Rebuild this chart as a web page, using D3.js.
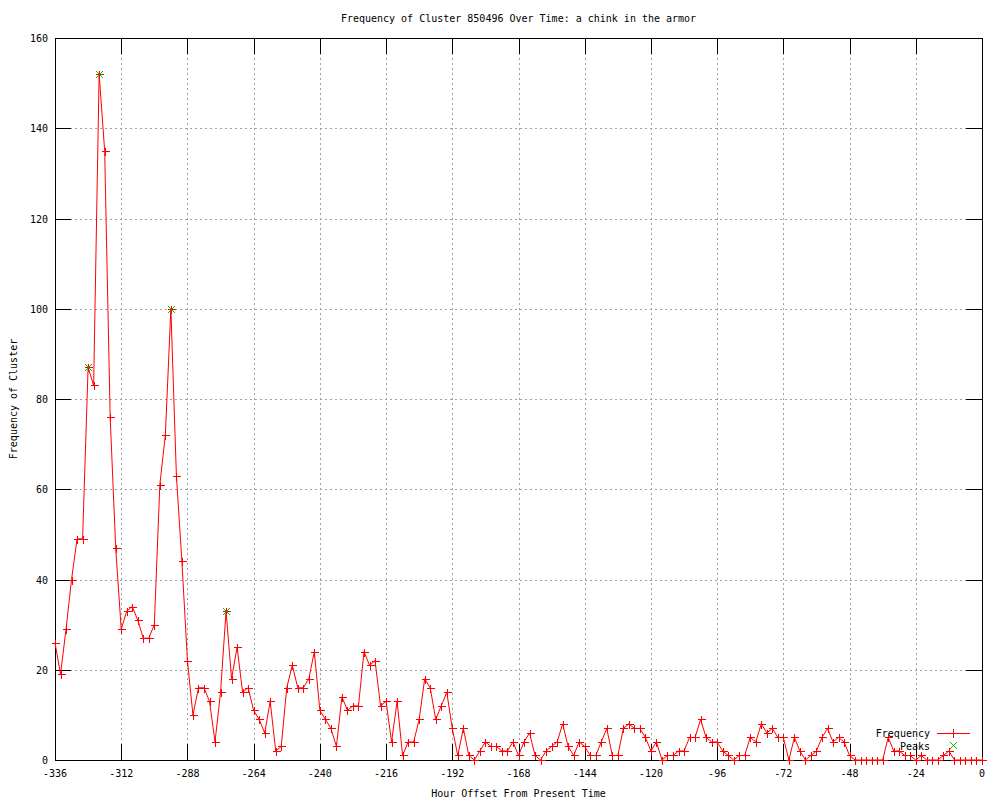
<!DOCTYPE html>
<html>
<head>
<meta charset="utf-8">
<script src="https://cdn.jsdelivr.net/npm/d3@7"></script>
<style>
  body { margin: 0; background: #fff; }
  text { font-family: "DejaVu Sans Mono", "Liberation Mono", monospace; font-size: 10px; fill: #000; }
</style>
</head>
<body>
<main></main>
<script>
// hours run every 2 hours from -336 up to 0
const hours = d3.range(-336, 1, 2);

// frequency, one per 2-hour step
const frequency = [
  26, 19, 29, 40, 49, 49, 87, 83, 152, 135,
  76, 47, 29, 33, 34, 31, 27, 27, 30, 61,
  72, 100, 63, 44, 22, 10, 16, 16, 13, 4,
  15, 33, 18, 25, 15, 16, 11, 9, 6, 13,
  2, 3, 16, 21, 16, 16, 18, 24, 11, 9,
  7, 3, 14, 11, 12, 12, 24, 21, 22, 12,
  13, 4, 13, 1, 4, 4, 9, 18, 16, 9,
  12, 15, 7, 1, 7, 1, 0, 2, 4, 3,
  3, 2, 2, 4, 1, 4, 6, 1, 0, 2,
  3, 4, 8, 3, 1, 4, 3, 1, 1, 4,
  7, 1, 1, 7, 8, 7, 7, 5, 2, 4,
  0, 1, 1, 2, 2, 5, 5, 9, 5, 4,
  4, 2, 1, 0, 1, 1, 5, 4, 8, 6,
  7, 5, 5, 0, 5, 2, 0, 1, 2, 5,
  7, 4, 5, 4, 1, 0, 0, 0, 0, 0,
  0, 5, 2, 2, 1, 1, 0, 1, 0, 0,
  0, 1, 2, 0, 0, 0, 0, 0, 0
];

const peakHours = [-324, -320, -294, -274];
const peakValues = [87, 152, 100, 33];

const xTicks = [-336, -312, -288, -264, -240, -216, -192, -168, -144, -120, -96, -72, -48, -24, 0];
const yTicks = [0, 20, 40, 60, 80, 100, 120, 140, 160];

const width = 1000, height = 800;
const plot = { left: 55, right: 982, top: 38, bottom: 760 };
const tic = 16;

const svg = d3.select("main").append("svg")
  .attr("width", width)
  .attr("height", height);

const x = d3.scaleLinear().domain([-336, 0]).range([plot.left, plot.right]);
const y = d3.scaleLinear().domain([0, 160]).range([plot.bottom, plot.top]);

// grid
const grid = svg.append("g")
  .attr("stroke", "#a0a0a0")
  .attr("stroke-dasharray", "2,3")
  .attr("shape-rendering", "crispEdges");

grid.selectAll("line.gx")
  .data(xTicks.filter(d => d !== -336 && d !== 0))
  .enter().append("line")
  .attr("x1", d => Math.round(x(d)) + 0.5).attr("x2", d => Math.round(x(d)) + 0.5)
  .attr("y1", plot.top).attr("y2", plot.bottom);

grid.selectAll("line.gy")
  .data(yTicks.filter(d => d !== 0 && d !== 160))
  .enter().append("line")
  .attr("y1", d => Math.round(y(d)) + 0.5).attr("y2", d => Math.round(y(d)) + 0.5)
  .attr("x1", plot.left).attr("x2", plot.right);

// ticks on all four sides
const ticks = svg.append("g")
  .attr("stroke", "#000")
  .attr("shape-rendering", "crispEdges");

xTicks.forEach(d => {
  const px = Math.round(x(d)) + 0.5;
  ticks.append("line").attr("x1", px).attr("x2", px).attr("y1", plot.bottom).attr("y2", plot.bottom - tic);
  ticks.append("line").attr("x1", px).attr("x2", px).attr("y1", plot.top).attr("y2", plot.top + tic);
});
yTicks.forEach(d => {
  const py = Math.round(y(d)) + 0.5;
  ticks.append("line").attr("y1", py).attr("y2", py).attr("x1", plot.left).attr("x2", plot.left + tic);
  ticks.append("line").attr("y1", py).attr("y2", py).attr("x1", plot.right).attr("x2", plot.right - tic);
});

// frame
svg.append("rect")
  .attr("x", plot.left + 0.5).attr("y", plot.top + 0.5)
  .attr("width", plot.right - plot.left).attr("height", plot.bottom - plot.top)
  .attr("fill", "none").attr("stroke", "#000")
  .attr("shape-rendering", "crispEdges");

// tick labels
svg.append("g").selectAll("text")
  .data(xTicks)
  .enter().append("text")
  .attr("x", d => x(d))
  .attr("y", 777)
  .attr("text-anchor", "middle")
  .text(d => d);

svg.append("g").selectAll("text")
  .data(yTicks)
  .enter().append("text")
  .attr("x", 48)
  .attr("y", d => y(d) + 4)
  .attr("text-anchor", "end")
  .text(d => d);

// titles
svg.append("text")
  .attr("x", (plot.left + plot.right) / 2).attr("y", 22)
  .attr("text-anchor", "middle")
  .text("Frequency of Cluster 850496 Over Time: a chink in the armor");

svg.append("text")
  .attr("x", (plot.left + plot.right) / 2).attr("y", 797)
  .attr("text-anchor", "middle")
  .text("Hour Offset From Present Time");

svg.append("text")
  .attr("transform", `translate(17, ${(plot.top + plot.bottom) / 2}) rotate(-90)`)
  .attr("text-anchor", "middle")
  .text("Frequency of Cluster");

// frequency line
const data = hours.map((h, i) => ({ h: h, v: frequency[i] }));

svg.append("path")
  .datum(data)
  .attr("fill", "none")
  .attr("stroke", "#ff0000")
  .attr("stroke-width", 1)
  .attr("d", d3.line().x(d => x(d.h)).y(d => y(d.v)));

const plus = (cx, cy, r) => `M${cx - r},${cy}H${cx + r}M${cx},${cy - r}V${cy + r}`;
const cross = (cx, cy, r) => `M${cx - r},${cy - r}L${cx + r},${cy + r}M${cx - r},${cy + r}L${cx + r},${cy - r}`;

svg.append("g").selectAll("path")
  .data(data)
  .enter().append("path")
  .attr("fill", "none")
  .attr("stroke", "#ff0000")
  .attr("shape-rendering", "crispEdges")
  .attr("d", d => plus(Math.round(x(d.h)) + 0.5, Math.round(y(d.v)) + 0.5, 4));

// peaks
const peaks = peakHours.map((h, i) => ({ h: h, v: peakValues[i] }));
svg.append("g").selectAll("path")
  .data(peaks)
  .enter().append("path")
  .attr("fill", "none")
  .attr("stroke", "#00c000")
  .attr("d", d => cross(Math.round(x(d.h)) + 0.5, Math.round(y(d.v)) + 0.5, 3.5));

// legend
const legend = svg.append("g");
legend.append("text").attr("x", 930).attr("y", 737).attr("text-anchor", "end").text("Frequency");
legend.append("rect").attr("x", 937).attr("y", 733).attr("width", 33).attr("height", 1).attr("fill", "#ff0000");
legend.append("rect").attr("x", 953).attr("y", 729).attr("width", 1).attr("height", 9).attr("fill", "#ff0000");
legend.append("text").attr("x", 930).attr("y", 750).attr("text-anchor", "end").text("Peaks");
legend.append("path").attr("d", cross(953.5, 745.5, 3.5))
  .attr("stroke", "#00c000").attr("fill", "none");
</script>
</body>
</html>
